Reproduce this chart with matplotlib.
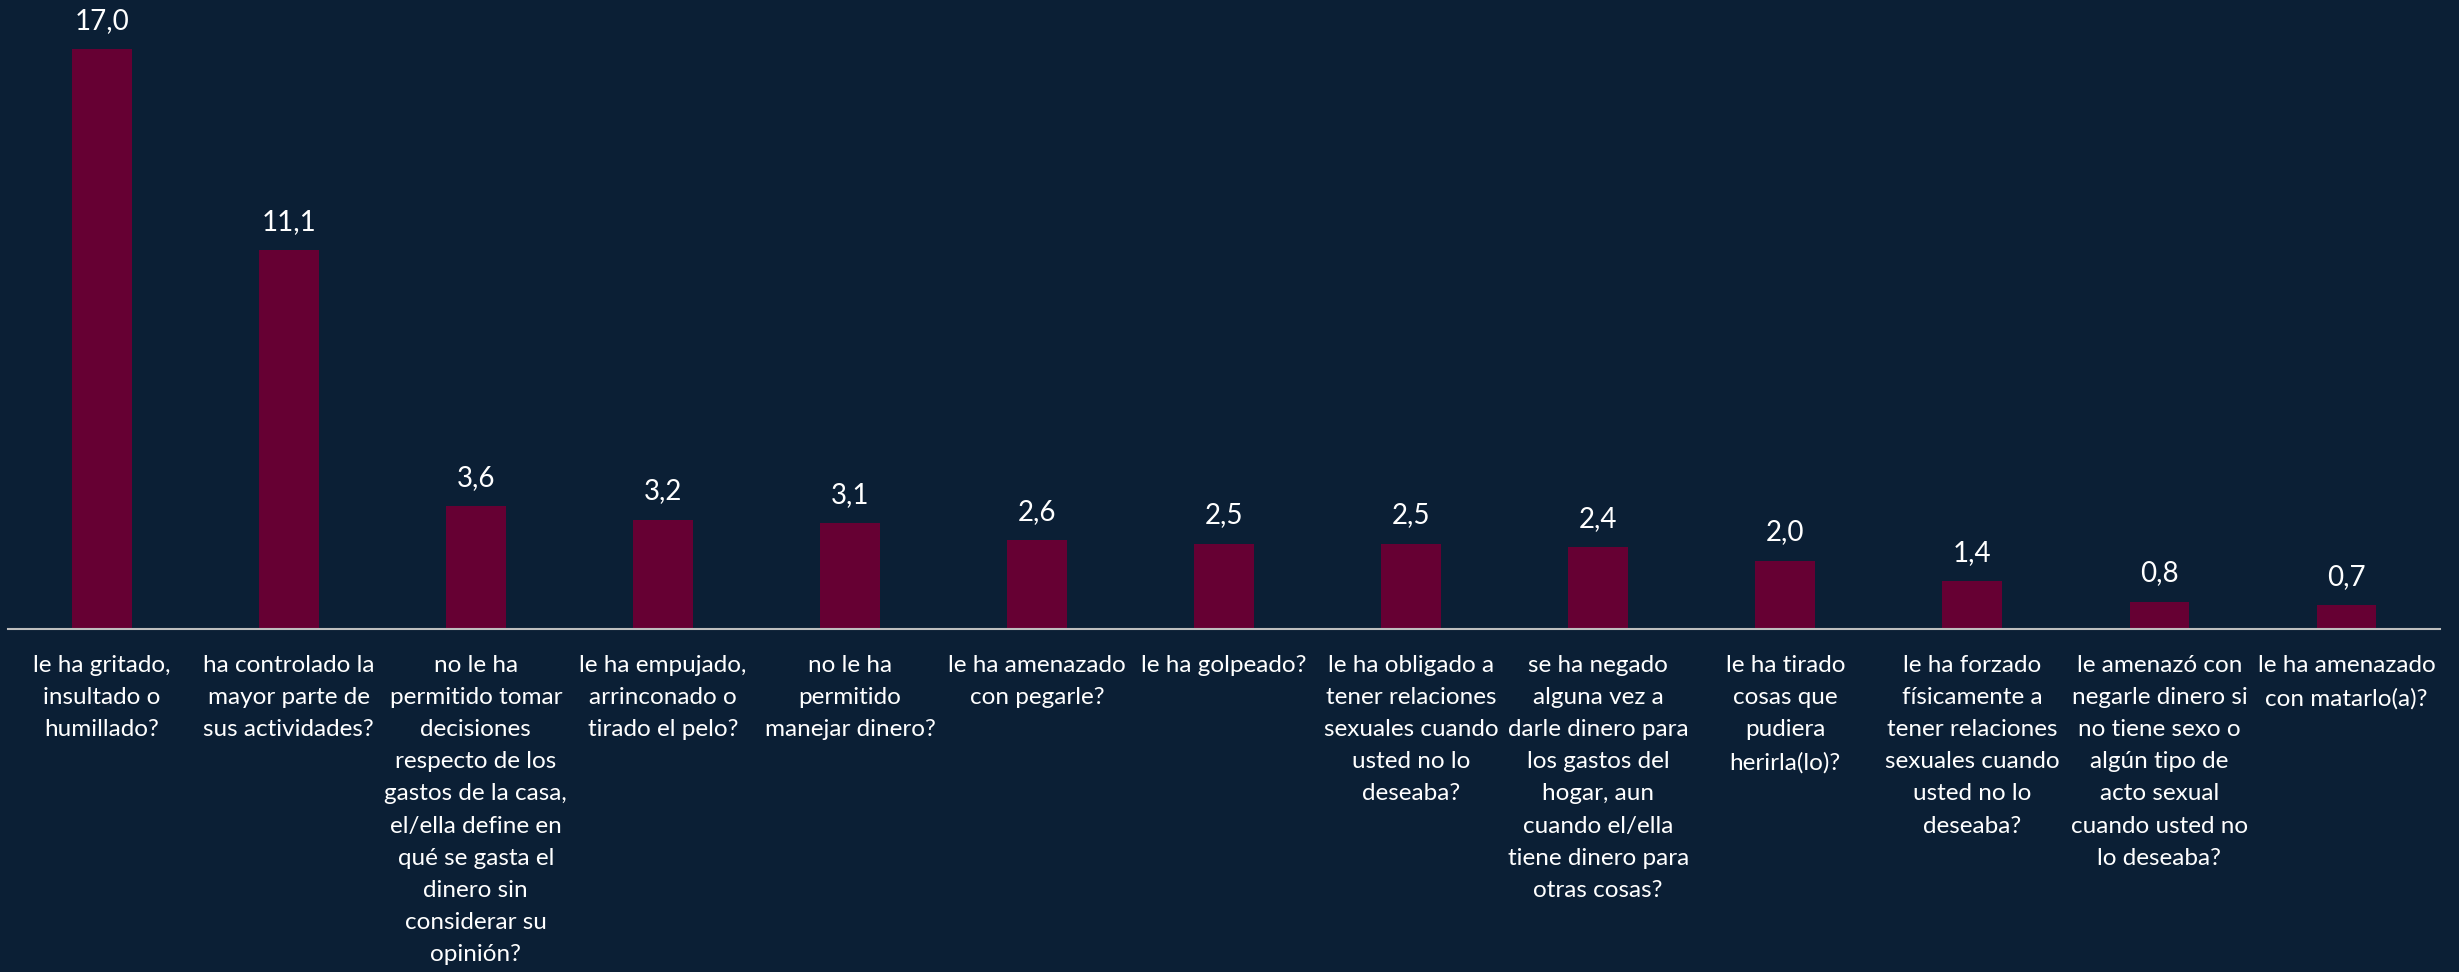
"""Bar chart of reported partner violence types (percent)."""

import matplotlib

matplotlib.use("Agg")
import matplotlib.pyplot as plt  # type: ignore
import numpy as np  # type: ignore

BG = "#0B1F35"
BAR = "#660033"

labels = [
    "le ha gritado,\ninsultado o\nhumillado?",
    "ha controlado la\nmayor parte de\nsus actividades?",
    "no le ha\npermitido tomar\ndecisiones\nrespecto de los\ngastos de la casa,\n"
    "el/ella define en\nqué se gasta el\ndinero sin\nconsiderar su\nopinión?",
    "le ha empujado,\narrinconado o\ntirado el pelo?",
    "no le ha\npermitido\nmanejar dinero?",
    "le ha amenazado\ncon pegarle?",
    "le ha golpeado?",
    "le ha obligado a\ntener relaciones\nsexuales cuando\nusted no lo\ndeseaba?",
    "se ha negado\nalguna vez a\ndarle dinero para\nlos gastos del\nhogar, aun\n"
    "cuando el/ella\ntiene dinero para\notras cosas?",
    "le ha tirado\ncosas que\npudiera\nherirla(lo)?",
    "le ha forzado\nfísicamente a\ntener relaciones\nsexuales cuando\nusted no lo\ndeseaba?",
    "le amenazó con\nnegarle dinero si\nno tiene sexo o\nalgún tipo de\nacto sexual\n"
    "cuando usted no\nlo deseaba?",
    "le ha amenazado\ncon matarlo(a)?",
]
values = [17.0, 11.1, 3.6, 3.2, 3.1, 2.6, 2.5, 2.5, 2.4, 2.0, 1.4, 0.8, 0.7]


def main():
    plt.rcParams["font.family"] = ["Lato", "DejaVu Sans"]
    fig = plt.figure(figsize=(24.59, 9.72), dpi=100, facecolor=BG)
    ax = fig.add_axes([0.0033, 0.353, 0.989, 0.647])
    ax.set_facecolor(BG)

    x = np.arange(len(values))
    bars = ax.bar(x, values, width=0.32, color=BAR)
    for rect, val in zip(bars, values):
        ax.annotate(
            f"{val:.1f}".replace(".", ","),
            (rect.get_x() + rect.get_width() / 2, val),
            xytext=(0, 11), textcoords="offset points",
            ha="center", va="bottom", color="white", fontsize=20,
        )

    ax.set_xlim(-0.5, len(values) - 0.5)
    ax.set_ylim(0, 18.44)
    ax.set_yticks([])
    ax.set_xticks(x)
    ax.set_xticklabels(labels, color="white", fontsize=17.5, linespacing=1.65)
    ax.tick_params(axis="x", length=0, pad=19)
    for side in ("top", "left", "right"):
        ax.spines[side].set_visible(False)
    ax.spines["bottom"].set_color("#BFBFBF")
    ax.spines["bottom"].set_linewidth(1.5)

    fig.savefig("out.png", dpi=100, facecolor=BG)


if __name__ == "__main__":
    main()
